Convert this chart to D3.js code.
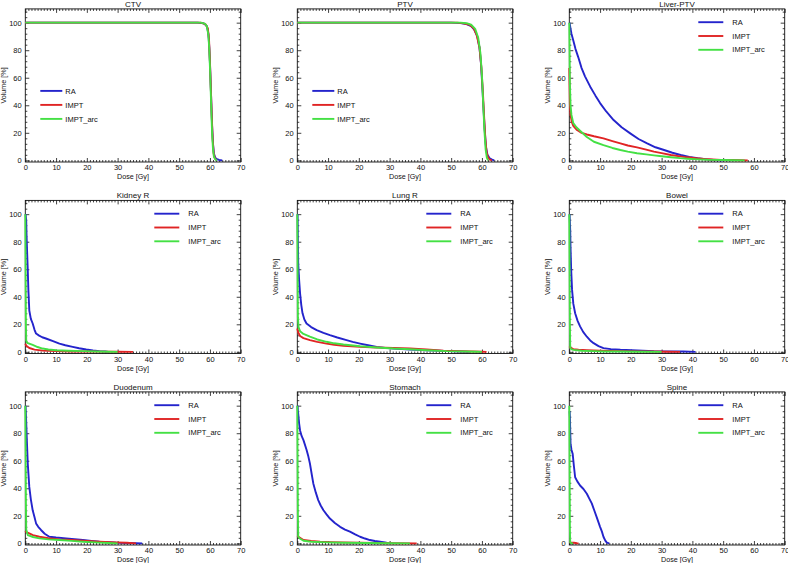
<!DOCTYPE html>
<html>
<head>
<meta charset="utf-8">
<script src="https://cdn.jsdelivr.net/npm/d3@7"></script>
<style>
  html, body { margin: 0; padding: 0; background: #fff; }
  svg { display: block; }
  text { font-family: "Liberation Sans", Arial, Helvetica, sans-serif; fill: #111; }
</style>
</head>
<body>
<svg id="chart" width="788" height="563"></svg>
<script>
// ---------------- DATA ----------------
const panelTitles = ["CTV", "PTV", "Liver-PTV", "Kidney R", "Lung R", "Bowel", "Duodenum", "Stomach", "Spine"];
const seriesNames = ["RA", "IMPT", "IMPT_arc"];
const xTickValues = [0, 10, 20, 30, 40, 50, 60, 70];
const yTickValues = [0, 20, 40, 60, 80, 100];

// [dose Gy, volume %]
const CTV_RA = [[0,100],[56,100],[58,99.5],[59,97.5],[59.5,92],[59.8,82],[60.1,65],[60.4,45],[60.7,25],[61,12],[61.3,5],[61.7,2],[62.3,0.8],[63,0.3],[64,0]];
const CTV_IMPT = [[0,100],[57,100],[58.5,99],[59.3,96],[59.7,88],[60,72],[60.3,52],[60.6,32],[60.9,15],[61.2,5],[61.6,1.5],[62.2,0]];
const CTV_ARC = [[0,100],[57,100],[58.3,99.3],[59,97.5],[59.5,91],[59.8,80],[60.1,62],[60.4,40],[60.7,20],[61,8],[61.3,2.5],[61.8,0.5],[62.3,0]];

const PTV_RA = [[0,100],[50,100],[53,99.7],[55,99],[56.5,97.5],[57.5,95],[58.5,90],[59.2,82],[59.7,70],[60.1,55],[60.5,38],[60.9,22],[61.3,10],[61.8,4],[62.5,1.5],[63.3,0.5],[64,0]];
const PTV_IMPT = [[0,100],[52,100],[54,99.5],[56,98.5],[57.3,96],[58.3,91],[59.2,82],[59.8,68],[60.3,50],[60.7,32],[61.1,16],[61.5,6],[62,2],[62.6,0.5],[63.2,0]];
const PTV_ARC = [[0,100],[53,100],[55,99.6],[56.5,98.5],[57.8,95.5],[58.8,89],[59.5,78],[60,62],[60.4,42],[60.8,22],[61.2,8],[61.6,2],[62,0]];

const LIVER_RA = [[0.1,100],[0.3,97],[0.7,92],[1.3,87],[2,81],[2.9,75],[4,67],[5.1,61],[6.8,53.5],[8.5,47],[10,41.6],[12,35.5],[14.4,29.3],[17,24],[19.8,19.6],[22.5,15.5],[25.3,12.3],[28,9.5],[30.8,7.5],[33.5,5.5],[36.2,3.9],[39,2.5],[41.7,1.5],[44.9,0.7],[47,0.3],[50,0]];
const LIVER_IMPT = [[0,67],[0.2,40],[0.4,33],[0.8,28],[1.3,25],[2.5,22],[4,20],[5.7,18.8],[8,17.5],[11.1,16],[14,14],[16.6,12.3],[19,10.8],[22,9.4],[25,7.8],[27.5,6.3],[30,5.2],[33,3.9],[36,2.9],[38.4,2.2],[41,1.6],[43.8,1],[46.5,0.6],[49.3,0.3],[53,0.2],[56,0.1],[58,0]];
const LIVER_ARC = [[0,100],[0.1,80],[0.2,55],[0.4,40],[0.7,33],[1.3,27],[2.3,24],[3.5,21.5],[5.7,17],[8,13.5],[11.1,11],[14,9],[16.6,7.5],[19,6.3],[22,5.2],[25,4.3],[27.5,3.6],[30,3],[33,2.3],[36,1.6],[38.4,1.2],[42,0.7],[45,0.4],[50,0.2],[54,0.1],[57,0]];

const KIDNEY_RA = [[0.1,100],[0.3,95],[0.4,85],[0.6,72],[0.8,59.5],[1,45],[1.3,30],[1.8,24],[2.4,20.6],[3,16],[3.5,13.3],[4.5,11.8],[5.5,10.6],[6.7,9.7],[9,7.8],[11.1,6],[13,4.8],[15.4,3.6],[17.5,2.6],[19.8,1.7],[22,1],[24.1,0.5],[26,0.2],[27,0]];
const KIDNEY_IMPT = [[0,6],[0.3,4.5],[1.3,2.8],[3,1.6],[5.7,0.9],[10,0.5],[15,0.3],[20,0.2],[25,0.15],[30,0.1],[35,0]];
const KIDNEY_ARC = [[0,100],[0.1,60],[0.2,20],[0.3,8],[0.6,6.6],[2.4,5],[4,3.5],[5.6,2.4],[7.5,1.7],[10,1.2],[14,0.8],[18.7,0.5],[23,0.3],[27,0.1],[30,0]];

const LUNG_RA = [[0.1,100],[0.2,80],[0.3,64],[0.6,52],[0.9,42.5],[1.3,34],[1.7,28],[2.3,23.5],[3,20.6],[4.5,18],[6.3,15.8],[8.5,13.8],[10.6,12.1],[13,10.4],[16,8.5],[18,7.2],[20.4,6],[23,4.8],[25.8,3.6],[28.5,2.9],[31.2,2.4],[36.6,1.7],[42,1.2],[47.5,0.7],[52.9,0.2],[56,0]];
const LUNG_IMPT = [[0,17],[0.3,14],[0.9,11.5],[2,10],[4.1,8.5],[6.5,7.2],[9.5,6],[12,5.2],[15,4.4],[20.4,3.6],[25.8,3.2],[31.2,2.9],[36.6,2.4],[42,1.7],[47.5,0.9],[53,0.4],[57,0.2],[60,0.1],[61.5,0]];
const LUNG_ARC = [[0,100],[0.1,60],[0.2,25],[0.4,18],[0.9,15],[2,13],[4.1,11],[6.5,9],[9.5,7.3],[12,6.2],[15,5.3],[20.4,4.1],[25.8,3.2],[31.2,2.4],[36.6,1.9],[42,1.2],[48.5,0.5],[54,0.2],[58.3,0.05],[60,0]];

const BOWEL_RA = [[0.1,100],[0.3,88],[0.4,76],[0.6,60],[0.9,45],[1.3,35],[1.9,28],[2.7,22.5],[3.5,18.5],[4.5,14.5],[5.7,11],[6.8,8.3],[7.9,6.3],[9.5,4.2],[11.1,2.7],[13.5,2],[16.6,1.5],[22,1],[27.5,0.5],[33,0.3],[37,0.2],[41,0]];
const BOWEL_IMPT = [[0,4],[0.4,3],[1.3,2],[3,1.5],[5.7,1.2],[10,0.9],[16.6,0.5],[22,0.35],[27.5,0.2],[32,0.1],[36,0]];
const BOWEL_ARC = [[0,100],[0.1,60],[0.2,20],[0.3,3],[0.6,2],[1.3,1.4],[4,0.8],[8,0.5],[11,0.3],[16,0.2],[22,0.1],[30,0]];

const DUOD_RA = [[0.1,100],[0.2,94],[0.5,75],[0.8,58],[1.3,41],[1.8,32],[2.4,24],[3,19],[3.5,14.5],[4.2,12],[5.1,9.7],[6.3,7],[7.8,4.8],[10,4.2],[13.3,3.6],[16,3],[18.7,2.4],[21.5,1.8],[24.1,1.2],[27,0.8],[29.6,0.5],[33,0.3],[36,0.1],[38,0]];
const DUOD_IMPT = [[0,9],[0.3,8.2],[1.3,7.2],[2.5,6],[4.6,4.8],[7.5,3.7],[11.1,2.9],[15,2.4],[18.7,1.9],[24.1,1.2],[29.6,0.7],[33,0.4],[36,0]];
const DUOD_ARC = [[0,100],[0.1,70],[0.2,30],[0.3,10],[0.8,6],[2.5,4.6],[4.6,3.6],[7.5,2.9],[11.1,2.4],[15,1.8],[18.7,1.2],[24.1,0.5],[27,0.2],[30,0]];

const STOM_RA = [[0.1,100],[0.2,96],[0.3,94],[0.6,87],[0.9,82],[1.4,78],[2,75],[3,68],[3.6,63],[4.1,58],[4.7,50],[5.2,43.5],[6,37],[6.8,31.4],[7.6,27.5],[8.5,24],[9.5,21],[10.6,18],[12.2,14.8],[13.9,12],[15.5,10],[17.1,8.5],[18.8,6.5],[20.4,4.8],[22,3.5],[23.6,2.4],[25.2,1.7],[26.9,1.2],[28.5,0.6],[30,0]];
const STOM_IMPT = [[0,5.5],[0.5,4.5],[2,2.4],[4.5,1.7],[7.4,1.2],[11,0.9],[15,0.7],[20,0.5],[25.8,0.2],[32,0.1],[38.8,0]];
const STOM_ARC = [[0,100],[0.1,60],[0.2,20],[0.3,5],[0.8,3.5],[2,1.9],[4.5,1.2],[9.5,0.7],[15,0.4],[22,0.25],[30,0.1],[36.6,0]];

const SPINE_RA = [[0.1,96],[0.2,92],[0.3,82],[0.4,72.5],[0.7,68],[1.1,65],[1.5,56],[1.9,48],[2.6,45],[3.5,42],[4.6,39.5],[5.7,36],[6.5,32.5],[7.3,29],[8.1,24],[8.9,19],[10,12],[10.6,8.5],[11.1,4.8],[11.7,2],[12.2,0.5],[13,0]];
const SPINE_IMPT = [[0,1],[0.5,0.7],[1.5,0.4],[2.5,0.1],[3,0]];
const SPINE_ARC = [[0,100],[0.1,60],[0.2,10],[0.3,0.5],[0.7,0.2],[1.2,0]];

const panelSeries = [
  [CTV_RA, CTV_IMPT, CTV_ARC],
  [PTV_RA, PTV_IMPT, PTV_ARC],
  [LIVER_RA, LIVER_IMPT, LIVER_ARC],
  [KIDNEY_RA, KIDNEY_IMPT, KIDNEY_ARC],
  [LUNG_RA, LUNG_IMPT, LUNG_ARC],
  [BOWEL_RA, BOWEL_IMPT, BOWEL_ARC],
  [DUOD_RA, DUOD_IMPT, DUOD_ARC],
  [STOM_RA, STOM_IMPT, STOM_ARC],
  [SPINE_RA, SPINE_IMPT, SPINE_ARC]
];
// legend placement: left-middle for first two panels, top-right otherwise
const legendLeft = [true, true, false, false, false, false, false, false, false];

// ---------------- STYLE / LAYOUT ----------------
const colors = ["#2424cc", "#e02424", "#44e044"];
const pw = 215.4, ph = 153.1;
const colX = c => 25.3 + c * 272;
const rowY = r => 8.9 + r * 191.5;
const fs = 7.5;

const svg = d3.select("#chart");

panelTitles.forEach((title, i) => {
  const c = i % 3, r = Math.floor(i / 3);
  const left = colX(c), top = rowY(r);
  const g = svg.append("g").attr("transform", `translate(${left},${top})`);

  const x = d3.scaleLinear().domain([0, 70]).range([0, pw]);
  const y = d3.scaleLinear().domain([-1.2, 110]).range([ph, 0]);

  const minorX = d3.range(0, 71, 1).filter(v => v % 10 !== 0);
  const minorY = d3.range(0, 111, 4).filter(v => v % 20 !== 0);

  // major axes with labels
  g.append("g").attr("transform", `translate(0,${ph})`)
    .call(d3.axisBottom(x).tickValues(xTickValues).tickSize(-4).tickPadding(3.1).tickFormat(d3.format("d")));
  g.append("g")
    .call(d3.axisLeft(y).tickValues(yTickValues).tickSize(-4).tickPadding(3.6).tickFormat(d3.format("d")));
  // mirrored axes (no labels)
  g.append("g")
    .call(d3.axisTop(x).tickValues(xTickValues).tickSize(-4).tickFormat(""));
  g.append("g").attr("transform", `translate(${pw},0)`)
    .call(d3.axisRight(y).tickValues(yTickValues).tickSize(-4).tickFormat(""));
  // minor ticks
  g.append("g").attr("transform", `translate(0,${ph})`)
    .call(d3.axisBottom(x).tickValues(minorX).tickSize(-2).tickFormat(""));
  g.append("g")
    .call(d3.axisTop(x).tickValues(minorX).tickSize(-2).tickFormat(""));
  g.append("g")
    .call(d3.axisLeft(y).tickValues(minorY).tickSize(-2).tickFormat(""));
  g.append("g").attr("transform", `translate(${pw},0)`)
    .call(d3.axisRight(y).tickValues(minorY).tickSize(-2).tickFormat(""));

  g.selectAll(".domain").remove();
  g.selectAll(".tick line").attr("stroke", "#111").attr("stroke-width", 0.8);
  g.selectAll(".tick text").attr("font-size", fs).attr("font-family", "Liberation Sans, Arial, sans-serif").attr("fill", "#111");

  // box
  g.append("rect").attr("x", 0).attr("y", 0).attr("width", pw).attr("height", ph)
    .attr("fill", "none").attr("stroke", "#111").attr("stroke-width", 0.9);

  // curves
  const line = d3.line().x(d => x(d[0])).y(d => y(d[1]));
  panelSeries[i].forEach((data, s) => {
    g.append("path").datum(data).attr("d", line)
      .attr("fill", "none").attr("stroke", colors[s]).attr("stroke-width", 1.9)
      .attr("stroke-linejoin", "round");
  });

  // title
  g.append("text").attr("x", pw / 2).attr("y", -2.4).attr("text-anchor", "middle")
    .attr("font-size", 8).text(title);
  // axis labels
  g.append("text").attr("x", pw / 2).attr("y", ph + 17.4).attr("text-anchor", "middle")
    .attr("font-size", 7.2).text("Dose [Gy]");
  g.append("text").attr("transform", `translate(-22,${ph / 2}) rotate(-90)`)
    .attr("text-anchor", "middle").attr("dy", "0.35em")
    .attr("font-size", 7.2).text("Volume [%]");

  // legend
  const lg = legendLeft[i]
    ? { x1: 15, x2: 37, tx: 40, y0: 82, dy: 14 }
    : { x1: 129, x2: 154, tx: 163, y0: 13.3, dy: 13.8 };
  seriesNames.forEach((name, s) => {
    const yy = lg.y0 + s * lg.dy;
    g.append("line").attr("x1", lg.x1).attr("x2", lg.x2).attr("y1", yy).attr("y2", yy)
      .attr("stroke", colors[s]).attr("stroke-width", 1.9);
    g.append("text").attr("x", lg.tx).attr("y", yy).attr("dy", "0.35em")
      .attr("font-size", fs).text(name);
  });
});
</script>
</body>
</html>
